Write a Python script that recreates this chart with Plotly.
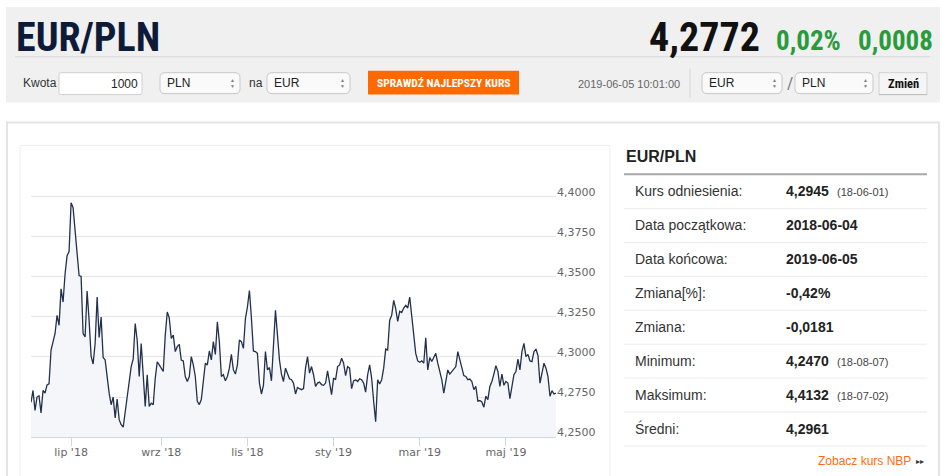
import plotly.graph_objects as go
import pandas as pd

# EUR/PLN daily rate, one value per business day
jun_18 = [4.2717, 4.2791, 4.2667, 4.2750, 4.2758, 4.2651, 4.2791, 4.2774, 4.2826, 4.2832,
          4.3043, 4.3094, 4.3146, 4.3259, 4.3197, 4.3424, 4.3342, 4.3517, 4.3631, 4.3657]
jul_18 = [4.3961, 4.3930, 4.3785, 4.3641, 4.3507, 4.3501, 4.3146, 4.3125, 4.3410, 4.3228, 4.3005,
          4.2956, 4.3084, 4.3373, 4.3121, 4.3249, 4.2997, 4.2981, 4.2857, 4.2774, 4.2702, 4.2750]
aug_18 = [4.2620, 4.2737, 4.2609, 4.2578, 4.2562, 4.2651, 4.2754, 4.2836, 4.2939, 4.2987, 4.3208, 4.3104,
          4.2878, 4.3084, 4.2857, 4.2692, 4.2888, 4.2692, 4.2712, 4.2702, 4.2867, 4.2970, 4.2950]
sep_18 = [4.2925, 4.2909, 4.3136, 4.3280, 4.3243, 4.3115, 4.3136, 4.3033, 4.3064, 4.3078,
          4.2981, 4.2975, 4.2878, 4.2847, 4.2878, 4.3002, 4.2950, 4.2878, 4.2724, 4.2703]
oct_18 = [4.2734, 4.2837, 4.2961, 4.2950, 4.3037, 4.2981, 4.3095, 4.3016, 4.3218, 4.3095, 4.2878, 4.2889,
          4.2851, 4.2878, 4.2930, 4.3016, 4.2919, 4.2893, 4.2950, 4.3105, 4.3095, 4.3053, 4.3239]
nov_18 = [4.3311, 4.3414, 4.3243, 4.3037, 4.3033, 4.3022, 4.2837, 4.2769, 4.2823, 4.3033, 4.2919,
          4.2934, 4.2851, 4.3084, 4.3290, 4.3136, 4.2981, 4.2893, 4.2847, 4.2930, 4.2893, 4.2864]
dec_18 = [4.2858, 4.2837, 4.2769, 4.2810, 4.2802, 4.2796, 4.2802, 4.2930, 4.3002, 4.2899, 4.2940,
          4.2889, 4.2816, 4.2837, 4.2843, 4.2827, 4.2823, 4.2837, 4.2913, 4.2847, 4.2765]
jan_19 = [4.2868, 4.2858, 4.2940, 4.2950, 4.2992, 4.2961, 4.2884, 4.2940, 4.2930, 4.2802, 4.2851, 4.2858,
          4.2847, 4.2864, 4.2858, 4.2837, 4.2781, 4.2889, 4.2950, 4.2868, 4.2724, 4.2596, 4.2858]
feb_19 = [4.2831, 4.2858, 4.2930, 4.3049, 4.3043, 4.3229, 4.3259, 4.3352, 4.3301, 4.3222,
          4.3284, 4.3276, 4.3305, 4.3321, 4.3305, 4.3373, 4.3239, 4.3126, 4.3022, 4.2975]
mar_19 = [4.2967, 4.2975, 4.2961, 4.3119, 4.2919, 4.2996, 4.2971, 4.2996, 4.3022, 4.2961, 4.2905,
          4.2858, 4.2775, 4.2847, 4.2919, 4.2893, 4.2909, 4.2919, 4.2940, 4.3033, 4.2981]
apr_19 = [4.2934, 4.2884, 4.2878, 4.2858, 4.2862, 4.2847, 4.2796, 4.2816, 4.2724, 4.2728, 4.2719,
          4.2687, 4.2755, 4.2734, 4.2816, 4.2847, 4.2893, 4.2946, 4.2909, 4.2816, 4.2893, 4.2823]
may_19 = [4.2847, 4.2837, 4.2740, 4.2816, 4.2889, 4.2909, 4.2987, 4.2919, 4.3033, 4.3084, 4.3002, 4.3016,
          4.2975, 4.2971, 4.3033, 4.3049, 4.3008, 4.2837, 4.2905, 4.2961, 4.2930, 4.2878, 4.2755]
jun_19 = [4.2790, 4.2769, 4.2775]

start_date = "2018-06-04"
end_date = "2019-06-05"

tick_dates = ["2018-07-02", "2018-09-03", "2018-11-01", "2019-01-01", "2019-03-01", "2019-05-01"]
tick_labels = ["lip '18", "wrz '18", "lis '18", "sty '19", "mar '19", "maj '19"]
y_ticks = [4.25, 4.275, 4.30, 4.325, 4.35, 4.375, 4.40, 4.425]
y_labels = ["4,2500", "4,2750", "4,3000", "4,3250", "4,3500", "4,3750", "4,4000", ""]

# right-hand summary table
stat_names = ["Kurs odniesienia:", "Data początkowa:", "Data końcowa:", "Zmiana[%]:",
              "Zmiana:", "Minimum:", "Maksimum:", "Średni:"]
stat_values = ["4,2945", "2018-06-04", "2019-06-05", "-0,42%", "-0,0181", "4,2470", "4,4132", "4,2961"]
stat_dates = ["(18-06-01)", "", "", "", "", "(18-08-07)", "(18-07-02)", ""]

last_rate = "4,2772"
change_pct = "0,02%"
change_abs = "0,0008"
timestamp = "2019-06-05 10:01:00"

W, H = 945, 476
BODY = "Liberation Sans, Arial, sans-serif"
NARROW = "Liberation Sans Narrow, Roboto Condensed, DejaVu Sans Condensed, Arial Narrow, sans-serif"
AXIS = "DejaVu Sans, Verdana, sans-serif"


def px(x):
    return x / W


def py(y):
    return 1 - y / H


rates = jun_18 + jul_18 + aug_18 + sep_18 + oct_18 + nov_18 + dec_18 + jan_19 + feb_19 + mar_19 + apr_19 + may_19 + jun_19
dates = pd.bdate_range(start_date, end_date)

fig = go.Figure()
fig.add_trace(go.Scatter(
    x=dates, y=rates, mode="lines", fill="tozeroy",
    line=dict(color="#22304c", width=1.3), fillcolor="#f4f6f9",
    hoverinfo="x+y", showlegend=False,
))

shapes = []
annotations = []


def box(x0, y0, x1, y1, fill, line="rgba(0,0,0,0)", width=1):
    shapes.append(dict(type="rect", xref="paper", yref="paper", layer="below",
                       x0=px(x0), x1=px(x1), y0=py(y0), y1=py(y1),
                       fillcolor=fill, line=dict(color=line, width=width)))


def rounded(x0, y0, x1, y1, r, fill, line):
    # rectangle with rounded corners, drawn as an svg path in paper units
    pts = [("M", x0 + r, y0), ("L", x1 - r, y0), ("Q", x1, y0, x1, y0 + r), ("L", x1, y1 - r),
           ("Q", x1, y1, x1 - r, y1), ("L", x0 + r, y1), ("Q", x0, y1, x0, y1 - r),
           ("L", x0, y0 + r), ("Q", x0, y0, x0 + r, y0)]
    path = ""
    for p in pts:
        coords = []
        for j in range(1, len(p), 2):
            coords.append(f"{px(p[j]):.5f},{py(p[j + 1]):.5f}")
        path += p[0] + " " + " ".join(coords) + " "
    shapes.append(dict(type="path", xref="paper", yref="paper", layer="below",
                       path=path + "Z", fillcolor=fill, line=dict(color=line, width=1)))


def hline(x0, x1, y, color, width=1):
    shapes.append(dict(type="line", xref="paper", yref="paper", layer="below",
                       x0=px(x0), x1=px(x1), y0=py(y), y1=py(y),
                       line=dict(color=color, width=width)))


def vline(x, y0, y1, color, width=1):
    shapes.append(dict(type="line", xref="paper", yref="paper", layer="below",
                       x0=px(x), x1=px(x), y0=py(y0), y1=py(y1),
                       line=dict(color=color, width=width)))


def text(x, y, s, size, color="#333333", bold=False, anchor="left", family=BODY):
    if bold:
        s = "<b>" + s + "</b>"
    annotations.append(dict(x=px(x), y=py(y), xref="paper", yref="paper", text=s,
                            showarrow=False, xanchor=anchor, yanchor="middle",
                            font=dict(size=size, color=color, family=family), borderpad=0))


def select(x0, x1, label):
    rounded(x0, 73, x1, 94, 5, "#fafafa", "#c8c8c8")
    text(x0 + 6, 83.5, label, 12, "#222222")
    text(x1 - 8, 80.5, "▲", 5, "#808080", anchor="center")
    text(x1 - 8, 86.5, "▼", 5, "#808080", anchor="center")


# header strip
box(6, 7, 940, 103, "#f0f0f0")
hline(15, 930, 57, "#d8d8d8")
text(15, 38, "EUR/PLN", 40, "#0d1b38", bold=True, family=NARROW)
text(761, 38, last_rate, 40, "#111111", bold=True, anchor="right", family=NARROW)
text(775, 41, change_pct, 27, "#2a9b3d", bold=True, family=NARROW)
text(857, 41, change_abs, 27, "#2a9b3d", bold=True, family=NARROW)

# converter row
text(22, 83.5, "Kwota", 12, "#333333")
rounded(59, 73, 142, 95, 2, "#ffffff", "#cfcfcf")
text(139, 84, "1000", 12, "#222222", anchor="right")
select(160, 240, "PLN")
text(248, 83.5, "na", 12, "#333333")
select(267, 350, "EUR")
box(368, 71, 519, 95, "#ff6a00")
text(443.5, 83.5, "SPRAWDŹ NAJLEPSZY KURS", 11.5, "#ffffff", bold=True, anchor="center", family=NARROW)
text(681, 84, timestamp, 11, "#666666", anchor="right")
vline(690, 69, 98, "#d6d6d6")
select(702, 782, "EUR")
text(790, 83, "/", 17, "#777777", anchor="center", family=NARROW)
select(795, 873, "PLN")
box(879, 73, 927, 95, "#f5f5f5", "#d2d2d2")
hline(879, 927, 95, "#bdbdbd")
text(903, 84, "Zmień", 12.5, "#111111", bold=True, anchor="center", family=NARROW)

# content frames
box(7, 123, 939, 482, "#ffffff", "#e4e4e4", 2)
box(20, 146, 610, 482, "#ffffff", "#eeeeee", 1)

# summary table
text(625, 157, "EUR/PLN", 16, "#222222", bold=True)
hline(624, 927, 175, "#a8a8a8", 2)
for i, name in enumerate(stat_names):
    yc = 192 + 34.05 * i
    text(634, yc, name, 14, "#333333")
    text(785, yc, stat_values[i], 14, "#222222", bold=True)
    if stat_dates[i]:
        text(836, yc + 1, stat_dates[i], 11, "#444444")
    hline(624, 927, 209.5 + 34.05 * i, "#ececec")
text(912, 463, "Zobacz kurs NBP", 12, "#ff6c16", anchor="right")
text(920, 463.5, "▸▸", 8, "#333333", anchor="center")

fig.update_layout(
    width=W, height=H, margin=dict(l=0, r=0, t=0, b=0),
    paper_bgcolor="#ffffff", plot_bgcolor="rgba(0,0,0,0)",
    shapes=shapes, annotations=annotations, showlegend=False,
    xaxis=dict(
        domain=[px(31), px(556)], type="date",
        range=[start_date, end_date],
        rangebreaks=[dict(bounds=["sat", "mon"])],
        tickvals=tick_dates, ticktext=tick_labels,
        ticks="outside", ticklen=8, tickcolor="#ccd6eb", tickwidth=1,
        ticklabelstandoff=-3,
        showline=True, linecolor="#ccd6eb", linewidth=1,
        showgrid=False, zeroline=False,
        tickfont=dict(family=AXIS, size=11, color="#666666"),
    ),
    yaxis=dict(
        domain=[py(439), py(157)], side="right",
        range=[4.25, 4.425],
        tickvals=y_ticks, ticktext=y_labels,
        ticklabelposition="outside top", ticklabelshift=3, ticks="",
        showgrid=True, gridcolor="#e6e6e6", gridwidth=1,
        zeroline=False, showline=False,
        tickfont=dict(family=AXIS, size=11, color="#666666"),
    ),
)

fig.write_html("out.html", config={"displayModeBar": False},
               post_script="document.body.style.margin='0';")
